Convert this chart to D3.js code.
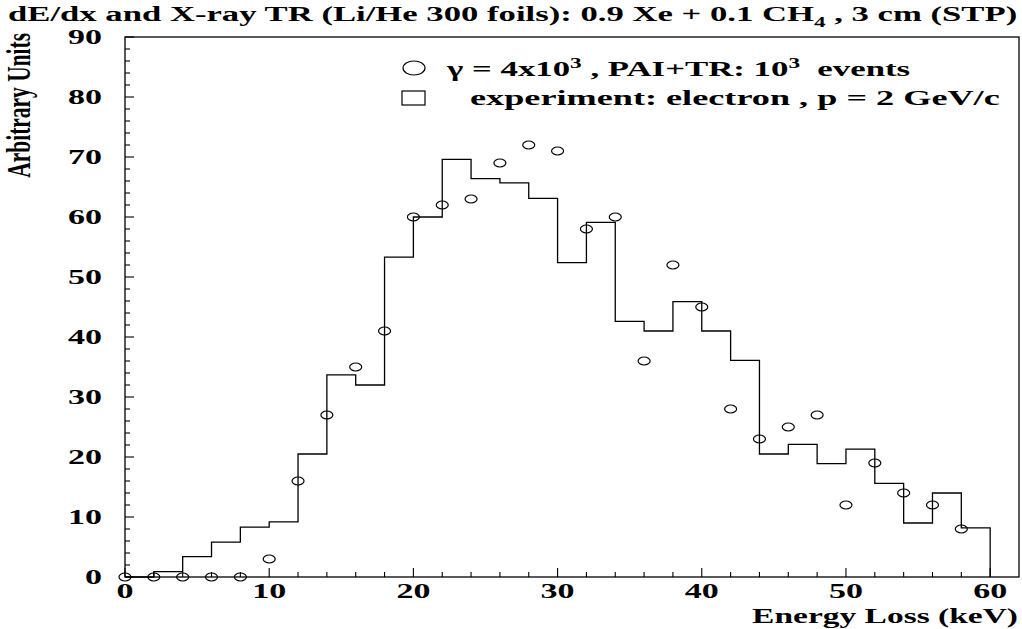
<!DOCTYPE html>
<html><head><meta charset="utf-8">
<script src="https://cdn.jsdelivr.net/npm/d3@7"></script>
<style>body{margin:0;background:#fff}svg{display:block}text{font-family:"Liberation Serif","Times New Roman",serif;font-weight:bold;fill:#000}</style>
</head><body><svg id="c" width="1022" height="629"></svg>
<script>
// Experiment histogram: bins of width 2 keV from 0 to 60
const binEdges = d3.range(0, 62, 2);
const expValues = [0, 0.9, 3.4, 5.8, 8.3, 9.2, 20.5, 33.7, 32.0, 53.3, 60.0, 69.6, 66.4, 65.7, 63.1, 52.4, 59.1, 42.6, 41.0, 45.9, 41.0, 36.1, 20.5, 22.1, 18.9, 21.3, 15.6, 9.0, 14.0, 8.2];
// Simulation (PAI+TR) points
const simX = d3.range(0, 60, 2);
const simValues = [0, 0, 0, 0, 0, 3, 16, 27, 35, 41, 60, 62, 63, 69, 72, 71, 58, 60, 36, 52, 45, 28, 23, 25, 27, 12, 19, 14, 12, 8];
const xTicks = [0, 10, 20, 30, 40, 50, 60];
const yTicks = [0, 10, 20, 30, 40, 50, 60, 70, 80, 90];

const SX = 1.7;
const svg = d3.select("#c");
const x = d3.scaleLinear().domain([0, 62]).range([125, 1019]);
const y = d3.scaleLinear().domain([0, 90]).range([577, 37]);

function fitWidth(g, width) {
  const w = g.node().getBBox().width;
  return width / w;
}

// frame
svg.append("rect").attr("x", x(0)).attr("y", y(90)).attr("width", x(62) - x(0)).attr("height", y(0) - y(90))
  .attr("fill", "none").attr("stroke", "#000").attr("stroke-width", 1.3);

// ticks (inward)
const g = svg.append("g").attr("stroke", "#000").attr("stroke-width", 1.1);
d3.range(0, 62, 2).forEach(v => {
  const major = v % 10 === 0;
  g.append("line").attr("x1", x(v)).attr("x2", x(v)).attr("y1", y(0)).attr("y2", y(0) - (major ? 9 : 5));
});
d3.range(0, 91, 2).forEach(v => {
  const major = v % 10 === 0;
  g.append("line").attr("x1", x(0)).attr("x2", x(0) + (major ? 9 : 5)).attr("y1", y(v)).attr("y2", y(v));
});

// tick labels
xTicks.forEach(v => {
  svg.append("text").attr("transform", `translate(${x(v)},598) scale(${SX},1)`)
    .attr("text-anchor", "middle").attr("font-size", 20).text(v);
});
yTicks.forEach(v => {
  svg.append("text").attr("transform", `translate(102,${y(v) + 7}) scale(${SX},1)`)
    .attr("text-anchor", "end").attr("font-size", 20).text(v);
});

// histogram
let d = `M${x(0)},${y(expValues[0])}`;
expValues.forEach((v, i) => {
  d += `V${y(v)}H${x(binEdges[i] + 2)}`;
});
d += `V${y(0)}`;
svg.append("path").attr("d", d).attr("fill", "none").attr("stroke", "#000").attr("stroke-width", 1.3);

// simulation points
svg.append("g").selectAll("ellipse").data(simX).join("ellipse")
  .attr("cx", (v) => x(v)).attr("cy", (v, i) => y(simValues[i]))
  .attr("rx", 6).attr("ry", 4).attr("fill", "none").attr("stroke", "#000").attr("stroke-width", 1.2);

// title
const t = svg.append("text").attr("font-size", 21).attr("x", 0).attr("y", 0);
t.append("tspan").text("dE/dx and X-ray TR (Li/He 300 foils): 0.9 Xe + 0.1 CH");
t.append("tspan").attr("font-size", 14).attr("dy", 6).text("4");
t.append("tspan").attr("dy", -6).text(" , 3 cm (STP)");
t.attr("transform", `translate(8,21) scale(${fitWidth(t, 1010)},1)`);

// legend
svg.append("ellipse").attr("cx", 414).attr("cy", 68).attr("rx", 11).attr("ry", 7)
  .attr("fill", "none").attr("stroke", "#000").attr("stroke-width", 1.2);
svg.append("rect").attr("x", 402).attr("y", 91).attr("width", 23).attr("height", 14)
  .attr("fill", "none").attr("stroke", "#000").attr("stroke-width", 1.2);
const l1 = svg.append("text").attr("font-size", 21);
l1.append("tspan").text("\u03b3 = 4x10");
l1.append("tspan").attr("font-size", 14).attr("dy", -8).text("3");
l1.append("tspan").attr("dy", 8).text(" , PAI+TR: 10");
l1.append("tspan").attr("font-size", 14).attr("dy", -8).text("3");
l1.append("tspan").attr("dy", 8).text("\u00a0\u00a0events");
l1.attr("transform", `translate(447,76) scale(${fitWidth(l1, 465)},1)`);
const l2 = svg.append("text").attr("font-size", 21).text("experiment: electron , p = 2 GeV/c");
l2.attr("transform", `translate(470,105) scale(${fitWidth(l2, 530)},1)`);

// axis titles
const xl = svg.append("text").attr("font-size", 21).attr("text-anchor", "end").text("Energy Loss (keV)");
xl.attr("transform", `translate(1018,623) scale(${fitWidth(xl, 266)},1)`);
const yl = svg.append("text").attr("font-size", 20).attr("text-anchor", "end").text("Arbitrary Units");
const yls = 145 / yl.node().getBBox().width;
yl.attr("transform", `translate(30,33) scale(${SX},${yls}) rotate(-90)`);
</script></body></html>
